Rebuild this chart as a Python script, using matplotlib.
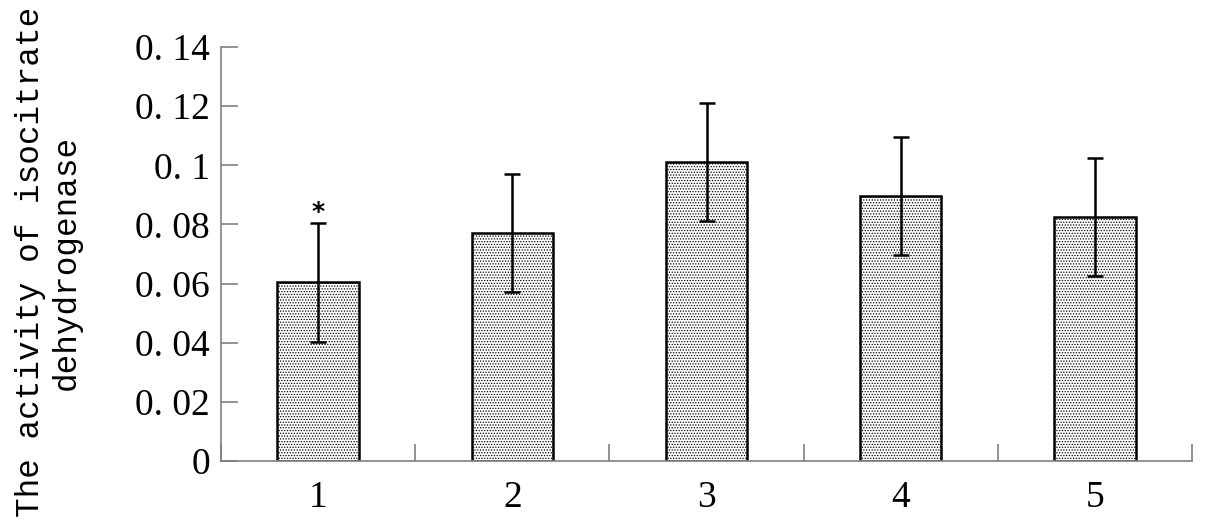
import numpy as np
import matplotlib.pyplot as plt

# Datos
grupos = ['1', '2', '3', '4', '5']
actividad = [0.0605, 0.0771, 0.1011, 0.0896, 0.0825]
error = [0.0201, 0.0201, 0.0200, 0.0200, 0.0200]
y_ticks = [0, 0.02, 0.04, 0.06, 0.08, 0.10, 0.12, 0.14]
y_etiquetas = ['0', '0. 02', '0. 04', '0. 06', '0. 08', '0. 1', '0. 12', '0. 14']

plt.rcParams['hatch.color'] = '#606060'
plt.rcParams['hatch.linewidth'] = 0.6

fig = plt.figure(figsize=(12.05, 5.29), dpi=100)
ax = fig.add_axes([221/1205, (529-461)/529, (1192-221)/1205, (461-47)/529])

x = np.arange(len(grupos))
ax.bar(x, actividad, width=0.42, color='white', edgecolor='black', linewidth=1.8,
       hatch='......', zorder=2)
ax.errorbar(x, actividad, yerr=error, fmt='none', ecolor='black', elinewidth=1.8,
            capsize=6, capthick=1.8, zorder=3)
ax.text(x[0], actividad[0] + error[0] - 0.0005, '*', ha='center', va='bottom',
        fontsize=18, fontweight='bold', family='DejaVu Sans')

ax.set_xlim(-0.5, len(grupos) - 0.5)
ax.set_ylim(0, 0.14)

ax.spines['top'].set_visible(False)
ax.spines['right'].set_visible(False)
for s in ['left', 'bottom']:
    ax.spines[s].set_color('#808080')
    ax.spines[s].set_linewidth(1.2)

ax.set_yticks(y_ticks)
ax.set_yticklabels(y_etiquetas, family='Liberation Serif', fontsize=27)
ax.tick_params(axis='y', direction='in', length=12, color='#808080', width=1.2, pad=8)

# ticks mayores entre categorias, etiquetas en el centro
ax.set_xticks(np.arange(-0.5, len(grupos), 1.0))
ax.set_xticklabels([])
ax.set_xticks(x, minor=True)
ax.set_xticklabels(grupos, minor=True, family='Liberation Serif', fontsize=27)
ax.tick_params(axis='x', which='major', direction='in', length=12, color='#808080', width=1.2)
ax.tick_params(axis='x', which='minor', length=0, pad=14)

ax.set_ylabel('The activity of isocitrate\ndehydrogenase', family='Liberation Mono',
              fontsize=23.5, linespacing=1.2)
ax.yaxis.set_label_coords(-0.143, 0.48)

fig.savefig('out.png', dpi=100)
